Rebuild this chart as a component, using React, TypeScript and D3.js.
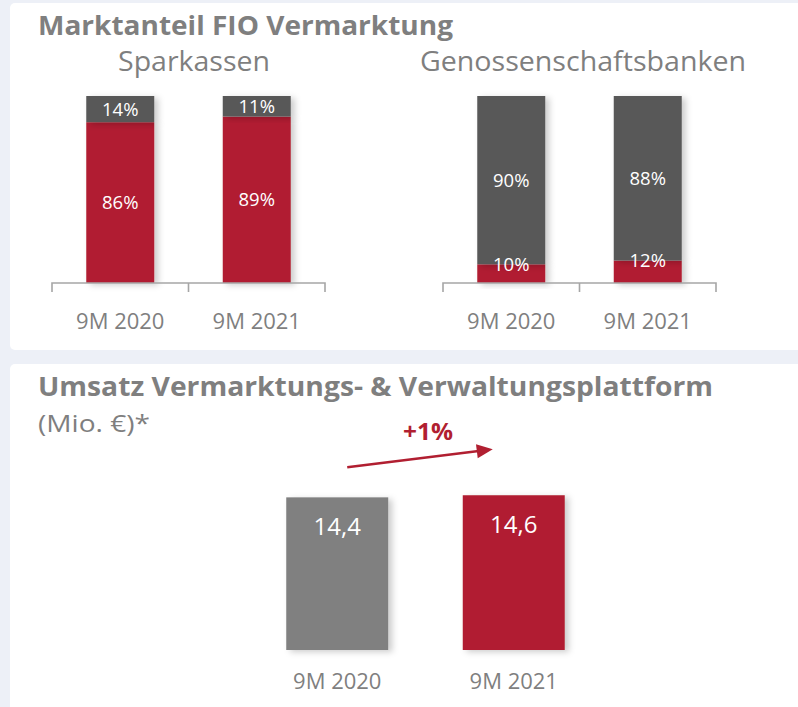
import React from 'react';
import * as d3 from 'd3';

// ---- Data ----
const shareCategories = ['9M 2020', '9M 2021'];
const sparkassenFio = [86, 89];
const sparkassenOther = [14, 11];
const genoFio = [10, 12];
const genoOther = [90, 88];

const revenueCategories = ['9M 2020', '9M 2021'];
const revenueValues = [14.4, 14.6];

const RED = '#b11f31';
const DARK = '#595959';
const MID = '#808080';
const TEXT = '#7f7f7f';
const BG = '#edf0f7';
const FONT = "'Open Sans', 'Noto Sans', sans-serif";

const W = 798;
const H = 707;

type StackProps = {
  title: string;
  titleX: number;
  titleLen: number;
  x0: number;
  x1: number;
  fio: number[];
  other: number[];
};

const AXIS_Y = 283;
const TOP_Y = 96;

function StackChart({ title, titleX, titleLen, x0, x1, fio, other }: StackProps) {
  const x = d3.scaleBand<string>().domain(shareCategories).range([x0, x1]).padding(0);
  const y = d3.scaleLinear().domain([0, 100]).range([AXIS_Y, TOP_Y]);
  const barW = 68;
  const rows = shareCategories.map((c, i) => ({ c, fio: fio[i], other: other[i] }));
  const stack = d3.stack<any>().keys(['fio', 'other'])(rows as any);
  const colors: Record<string, string> = { fio: RED, other: DARK };
  const ticks = [x0, ...shareCategories.map((c) => (x(c) as number) + x.bandwidth())];
  return (
    <g>
      <text
        x={titleX}
        y={71}
        textAnchor="middle"
        fontFamily={FONT}
        fontSize={28}
        fill={TEXT}
        textLength={titleLen}
        lengthAdjust="spacingAndGlyphs"
      >
        {title}
      </text>
      {stack.map((series) =>
        series.map((d, i) => {
          const c = shareCategories[i];
          const cx = (x(c) as number) + x.bandwidth() / 2;
          return (
            <rect
              key={series.key + c}
              x={cx - barW / 2}
              y={y(d[1])}
              width={barW}
              height={y(d[0]) - y(d[1])}
              fill={colors[series.key]}
              filter="url(#shadow)"
            />
          );
        })
      )}
      {stack.map((series) =>
        series.map((d, i) => {
          const c = shareCategories[i];
          const cx = (x(c) as number) + x.bandwidth() / 2;
          const h = y(d[0]) - y(d[1]);
          const isBottom = series.key === 'fio';
          const ly = isBottom && h < 24 ? y(d[1]) : (y(d[0]) + y(d[1])) / 2;
          const v = d[1] - d[0];
          return (
            <text
              key={'l' + series.key + c}
              x={cx}
              y={ly}
              dy="0.35em"
              textAnchor="middle"
              fontFamily={FONT}
              fontSize={18.5}
              fill="#ffffff"
            >
              {`${v}%`}
            </text>
          );
        })
      )}
      <path
        d={`M${x0},${AXIS_Y + 9}V${AXIS_Y}H${x1}V${AXIS_Y + 9}`}
        fill="none"
        stroke="#a6a6a6"
        strokeWidth={1.6}
      />
      {ticks.slice(1, -1).map((t) => (
        <line key={t} x1={t} x2={t} y1={AXIS_Y} y2={AXIS_Y + 9} stroke="#a6a6a6" strokeWidth={1.6} />
      ))}
      {shareCategories.map((c) => (
        <text
          key={'c' + c}
          x={(x(c) as number) + x.bandwidth() / 2}
          y={329}
          textAnchor="middle"
          fontFamily={FONT}
          fontSize={22}
          fill={TEXT}
        >
          {c}
        </text>
      ))}
    </g>
  );
}

function RevenueChart() {
  const base = 650;
  const x = d3.scaleBand<string>().domain(revenueCategories).range([249, 602]).padding(0);
  const y = d3.scaleLinear().domain([0, 20]).range([base, base - 212]);
  const barW = 102;
  const fills = [MID, RED];
  const centers = revenueCategories.map((c) => (x(c) as number) + x.bandwidth() / 2);
  const change = Math.round((revenueValues[1] / revenueValues[0] - 1) * 100);
  const fmt = (v: number) => v.toFixed(1).replace('.', ',');
  const ax1 = centers[0] + 10;
  const ay1 = y(revenueValues[0]) - 30;
  const ax2 = centers[1] - 21;
  const ay2 = y(revenueValues[1]) - 46;
  return (
    <g>
      {revenueValues.map((v, i) => (
        <rect
          key={'b' + i}
          x={centers[i] - barW / 2}
          y={y(v)}
          width={barW}
          height={base - y(v)}
          fill={fills[i]}
          filter="url(#shadow)"
        />
      ))}
      {revenueValues.map((v, i) => (
        <text
          key={'v' + i}
          x={centers[i]}
          y={y(v) + 38}
          textAnchor="middle"
          fontFamily={FONT}
          fontSize={24}
          fill="#ffffff"
        >
          {fmt(v)}
        </text>
      ))}
      {revenueCategories.map((c, i) => (
        <text
          key={'c' + c}
          x={centers[i]}
          y={689}
          textAnchor="middle"
          fontFamily={FONT}
          fontSize={22}
          fill={TEXT}
        >
          {c}
        </text>
      ))}
      <line x1={ax1} y1={ay1} x2={ax2 - 12} y2={ay2 + 1.5} stroke={RED} strokeWidth={2.5} />
      <path
        d={(() => {
          const ang = Math.atan2(ay2 - ay1, ax2 - ax1);
          const len = 16;
          const half = 7;
          const bx = ax2 - len * Math.cos(ang);
          const by = ay2 - len * Math.sin(ang);
          const px = -Math.sin(ang) * half;
          const py = Math.cos(ang) * half;
          return `M${ax2},${ay2}L${bx + px},${by + py}L${bx - px},${by - py}Z`;
        })()}
        fill={RED}
      />
      <text
        x={428}
        y={440}
        textAnchor="middle"
        fontFamily={FONT}
        fontWeight={700}
        fontSize={23}
        fill={RED}
        textLength={50}
        lengthAdjust="spacingAndGlyphs"
      >
        {`+${change}%`}
      </text>
    </g>
  );
}

export default function App() {
  return (
    <svg
      width={W}
      height={H}
      viewBox={`0 0 ${W} ${H}`}
      style={{ position: 'absolute', left: 0, top: 0, display: 'block' }}
    >
      <defs>
        <filter id="shadow" x="-20%" y="-20%" width="150%" height="150%">
          <feDropShadow dx={4} dy={2} stdDeviation={3} floodColor="#000" floodOpacity={0.2} />
        </filter>
      </defs>
      <rect x={0} y={0} width={W} height={H} fill={BG} />
      <rect x={10} y={3} width={W + 20} height={347} rx={5} fill="#ffffff" />
      <rect x={10} y={364} width={W + 20} height={H} rx={5} fill="#ffffff" />

      <text
        x={38}
        y={35}
        fontFamily={FONT}
        fontWeight={700}
        fontSize={27}
        fill={TEXT}
        textLength={415}
        lengthAdjust="spacingAndGlyphs"
      >
        Marktanteil FIO Vermarktung
      </text>

      <StackChart
        title="Sparkassen"
        titleX={194}
        titleLen={152}
        x0={52}
        x1={325}
        fio={sparkassenFio}
        other={sparkassenOther}
      />
      <StackChart
        title="Genossenschaftsbanken"
        titleX={583}
        titleLen={326}
        x0={443}
        x1={716}
        fio={genoFio}
        other={genoOther}
      />

      <text
        x={38}
        y={396}
        fontFamily={FONT}
        fontWeight={700}
        fontSize={27}
        fill={TEXT}
        textLength={675}
        lengthAdjust="spacingAndGlyphs"
      >
        Umsatz Vermarktungs- &amp; Verwaltungsplattform
      </text>
      <text x={38} y={432} fontFamily={FONT} fontSize={24} fill={TEXT} textLength={112} lengthAdjust="spacingAndGlyphs">
        (Mio. €)*
      </text>

      <RevenueChart />
    </svg>
  );
}
